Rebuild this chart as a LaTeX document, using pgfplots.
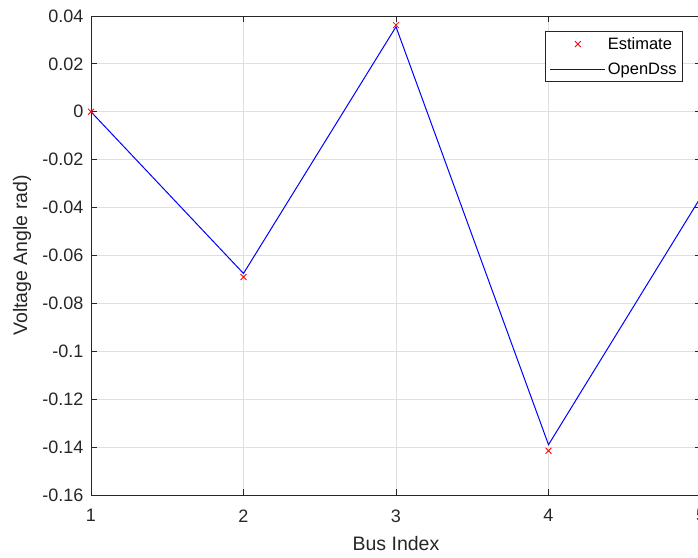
\documentclass[border=0pt]{standalone}
\usepackage{fontspec}
\setmainfont{Liberation Sans}
\usepackage{pgfplots}
\pgfplotsset{compat=1.18}

\definecolor{axgray}{RGB}{38,38,38}
\definecolor{gridgray}{RGB}{223,223,223}
\definecolor{lineblue}{RGB}{0,0,255}

% legend symbols: a single centred mark, or a 55pt blue line
\pgfplotsset{
  single mark key/.style={legend image code/.code={\draw[##1] plot coordinates {(27.5pt,0pt)};}},
  blue line key/.style={legend image code/.code={%
    \begin{pgfscope}
      \pgfsetlinewidth{1pt}%
      \pgfsetstrokecolor{lineblue}%
      \pgfpathmoveto{\pgfpoint{0pt}{0pt}}%
      \pgfpathlineto{\pgfpoint{55pt}{0pt}}%
      \pgfusepath{stroke}%
    \end{pgfscope}}},
}

\begin{document}
\begin{tikzpicture}
\begin{axis}[
  at={(0pt,0pt)}, anchor=south west,
  scale only axis,
  width=610pt, height=479pt,
  xmin=1, xmax=5, ymin=-0.16, ymax=0.04,
  xtick={1,2,3,4,5},
  ytick={-0.16,-0.14,-0.12,-0.1,-0.08,-0.06,-0.04,-0.02,0,0.02,0.04},
  /pgf/number format/assume math mode=true,
  yticklabel style={/pgf/number format/fixed, /pgf/number format/precision=2, xshift=-4pt},
  xticklabel style={yshift=-11pt},
  scaled y ticks=false,
  tick label style={font=\fontsize{18}{20}\selectfont, color=axgray},
  label style={font=\fontsize{19.5}{22}\selectfont, color=axgray},
  xlabel={Bus Index},
  ylabel={Voltage Angle rad)},
  xlabel style={at={(axis description cs:0.5,-0.1023)}, anchor=center},
  ylabel style={at={(axis description cs:-0.1131,0.5)}, anchor=center},
  grid=major,
  major grid style={gridgray, line width=0.8pt},
  axis line style={axgray, line width=0.8pt},
  tick style={axgray, line width=0.8pt},
  tick align=inside,
  major tick length=6pt,
  xtick pos=both, ytick pos=both,
  legend style={at={(1,1)}, anchor=north east, xshift=-18pt, yshift=-15pt,
    draw=axgray, line width=0.8pt, fill=white,
    font=\fontsize{16.5}{18}\selectfont,
    row sep=8pt, inner xsep=4pt, inner ysep=4pt,
    nodes={inner xsep=2pt}},
  legend cell align=left,
]
\addplot[only marks, mark=x, mark size=4.2pt, red, mark options={line width=0.8pt}, single mark key]
  coordinates {(1,0) (2,-0.069) (3,0.0362) (4,-0.1415) (5,-0.0345)};
\addlegendentry{Estimate}
\addplot[color=lineblue, line width=1pt, mark=none, blue line key]
  coordinates {(1,0) (2,-0.0675) (3,0.0355) (4,-0.139) (5,-0.0355)};
\addlegendentry{OpenDss}
\end{axis}
\pgfresetboundingbox
\path[use as bounding box] (-91pt,-62pt) rectangle (607pt,495pt);
\end{tikzpicture}
\end{document}
